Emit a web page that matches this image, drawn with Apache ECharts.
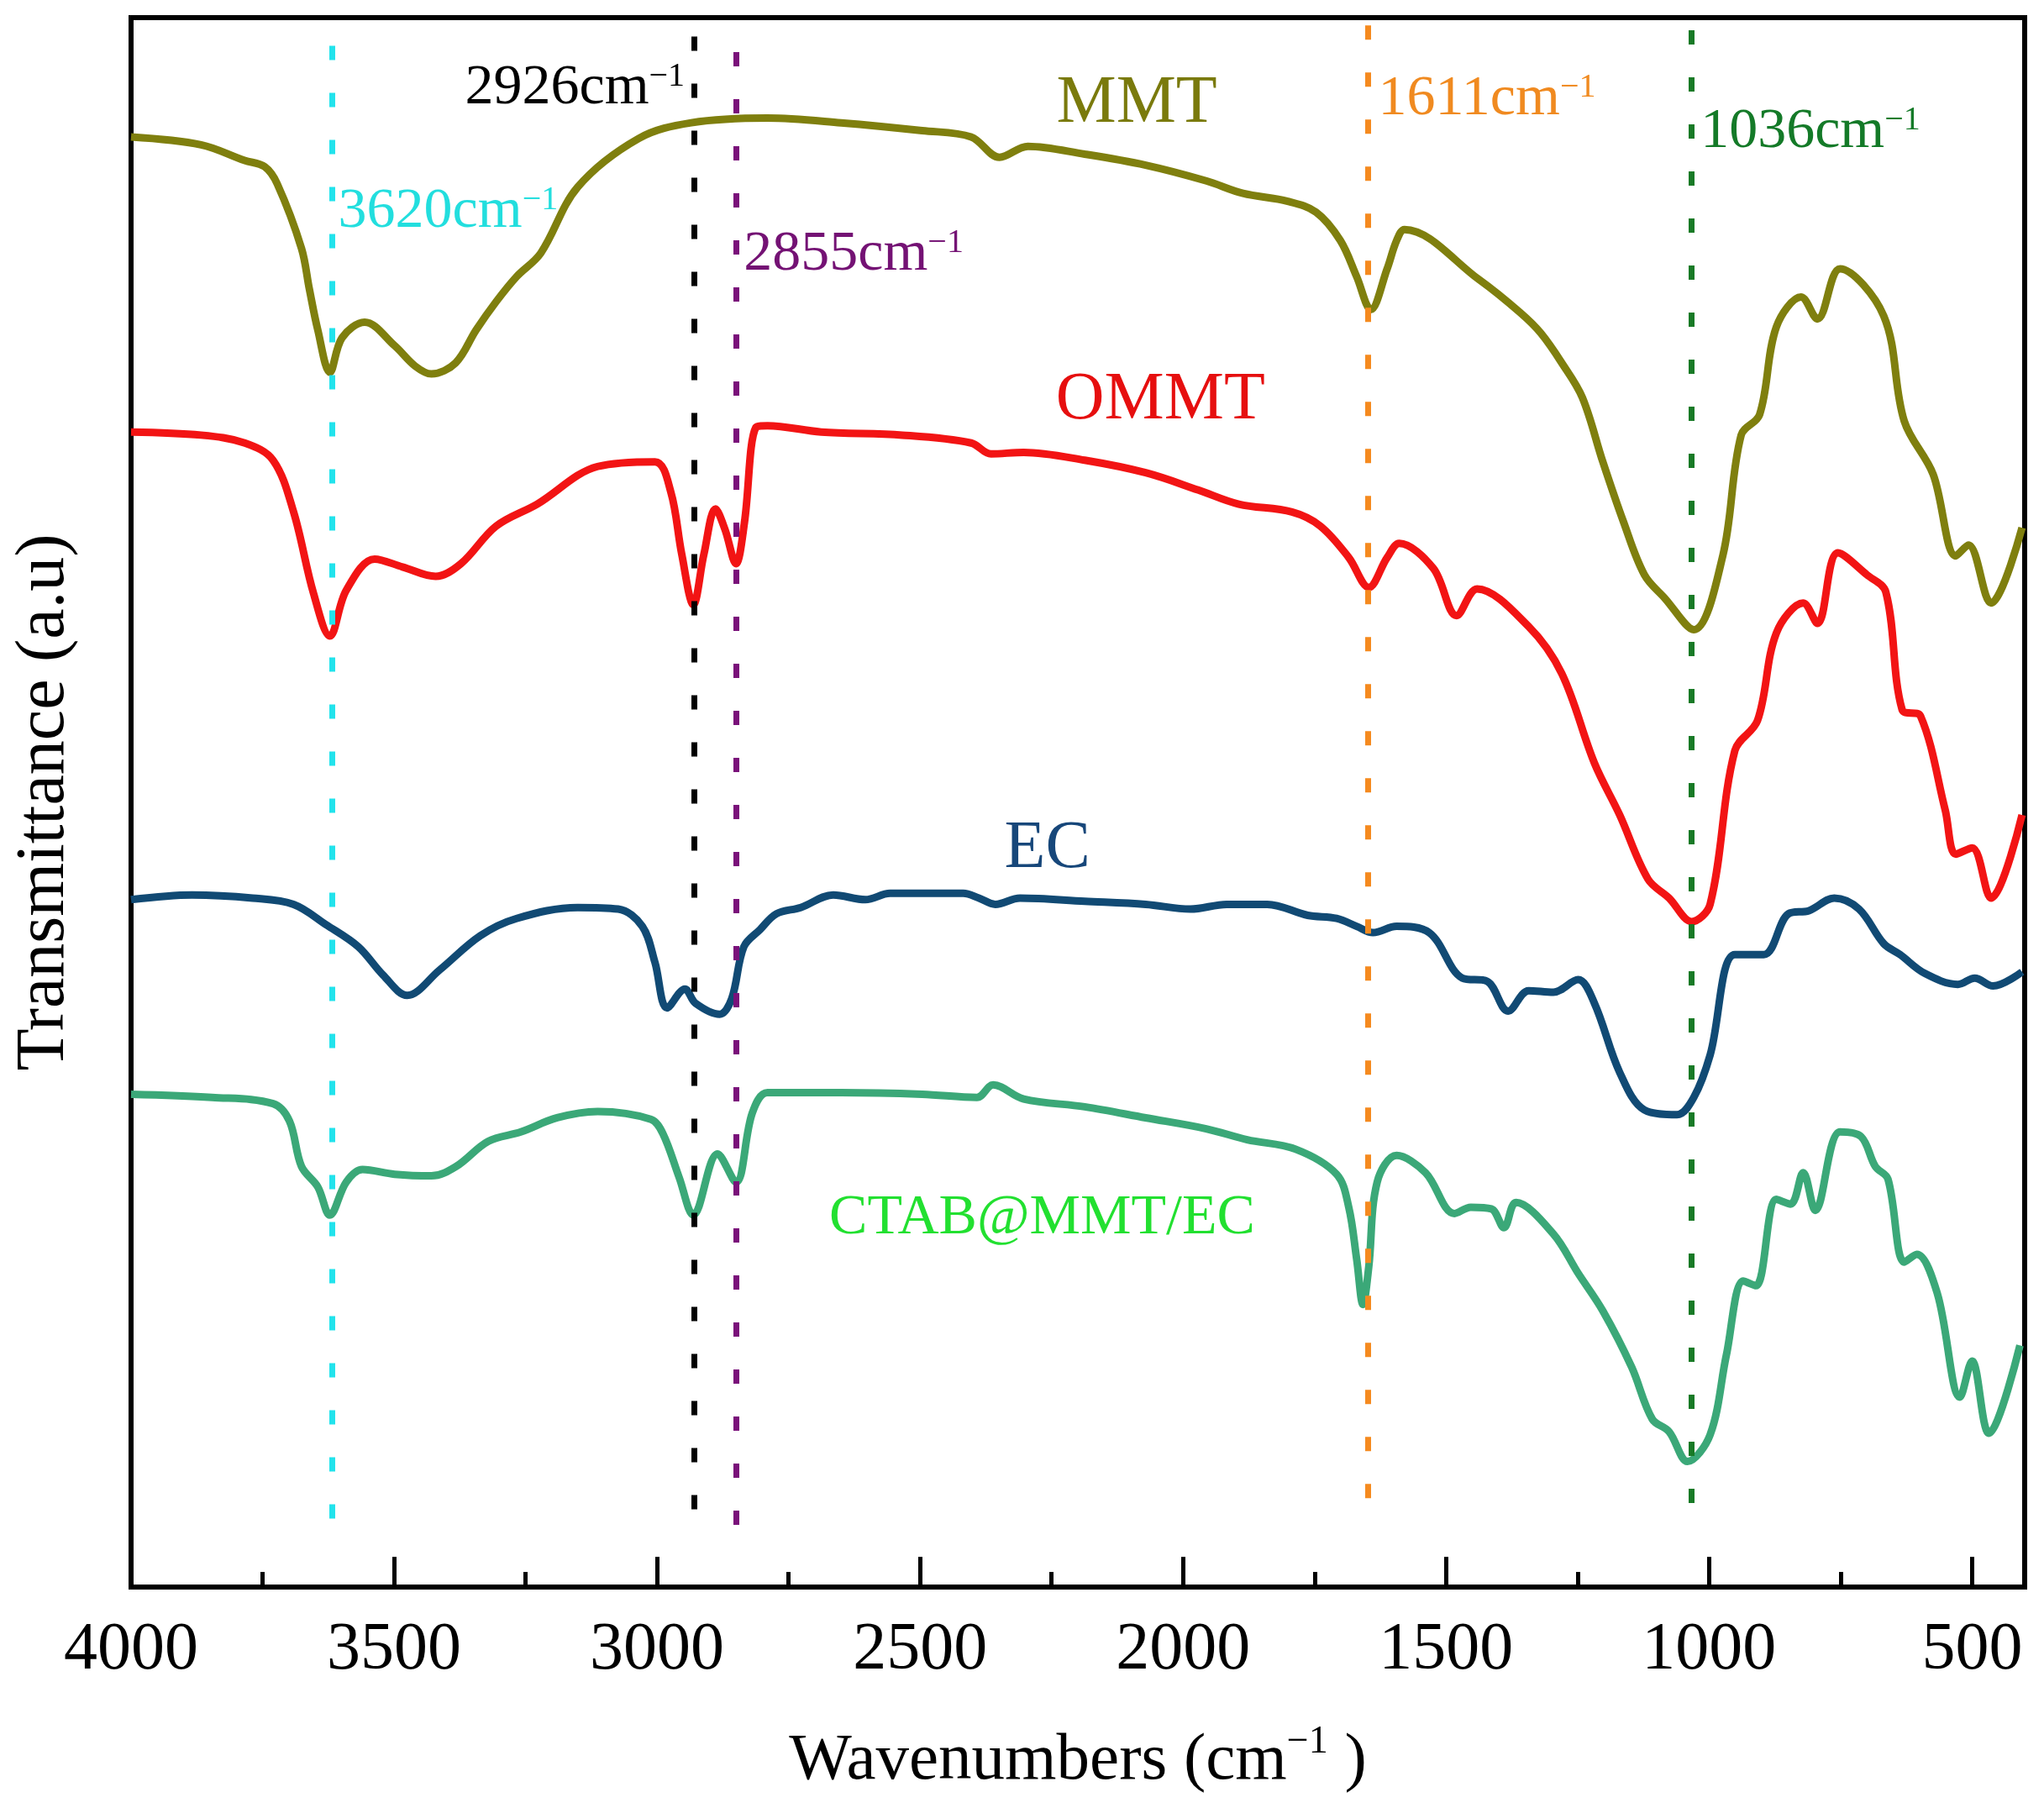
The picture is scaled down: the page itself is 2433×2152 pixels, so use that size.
<!DOCTYPE html>
<html>
<head>
<meta charset="utf-8">
<style>
html,body{margin:0;padding:0;background:#fff;}
#c{width:2433px;height:2152px;}
</style>
<script src="https://cdn.jsdelivr.net/npm/echarts@6/dist/echarts.min.js"></script>
</head>
<body>
<div id="c"></div>
<script>
// ---- data (wavenumber cm-1, transmittance a.u.) ----
const mmtWn = [4000,3867,3784,3746,3722,3676,3661,3645,3622,3599,3556,3499,3460,3429,3383,3344,3306,3267,3221,3151,3035,2935,2790,2650,2496,2403,2349,2295,2187,2071,1956,1886,1801,1747,1701,1670,1643,1612,1594,1579,1437,1359,1320,1280,1241,1202,1163,1123,1084,1029,974,939,904,872,825,794,751,668,629,574,531,507,464,405];
const mmtT  = [92.4,91.9,90.9,90.5,89.4,85.3,82.7,80.1,77.4,79.6,80.6,79.1,77.8,77.3,78.0,80.1,81.9,83.5,85.0,89.2,92.3,93.3,93.6,93.3,92.8,92.4,91.1,91.8,91.3,90.6,89.6,88.8,88.3,87.6,85.8,83.5,81.4,84.0,85.8,86.5,83.3,81.2,79.9,78.0,75.8,71.7,67.9,64.5,63.0,61.0,65.7,73.4,74.7,80.3,82.2,80.8,84.0,81.0,74.3,70.9,65.7,66.4,62.7,67.5];

const ommtWn = [4000,3867,3784,3730,3691,3653,3622,3591,3537,3484,3421,3373,3306,3228,3113,3004,2974,2953,2931,2911,2889,2871,2850,2834,2812,2790,2688,2534,2403,2365,2303,2187,2071,1971,1894,1793,1739,1685,1647,1612,1589,1524,1480,1441,1343,1280,1218,1170,1116,1076,1033,998,951,908,872,821,794,755,700,664,633,598,551,531,500,464,405];
const ommtT  = [73.6,73.4,72.9,71.8,68.5,63.3,60.6,63.5,65.5,65.0,64.4,65.2,67.6,69.0,71.4,71.7,69.8,65.8,62.6,65.8,68.7,67.4,65.2,67.8,73.9,74.0,73.6,73.4,72.9,72.2,72.3,71.8,71.0,69.9,69.0,68.5,67.6,65.6,63.7,65.6,66.5,64.9,61.9,63.6,61.2,58.2,52.5,49.2,45.1,43.9,42.4,43.5,53.3,55.2,60.8,62.7,61.4,65.9,64.5,63.4,55.9,55.5,49.5,46.7,47.1,43.9,49.2];

const ecWn = [4000,3884,3769,3691,3629,3568,3521,3475,3414,3336,3267,3151,3074,3028,3004,2981,2947,2927,2881,2858,2835,2804,2773,2727,2665,2604,2557,2418,2388,2357,2310,2187,2071,1986,1917,1840,1763,1708,1670,1639,1594,1532,1469,1422,1382,1343,1296,1249,1218,1170,1123,1061,1029,998,951,896,849,810,762,715,668,637,590,527,495,460,405];
const ecT  = [43.8,44.1,43.9,43.5,42.2,40.8,39.0,37.7,39.3,41.5,42.6,43.3,43.2,42.1,39.8,36.9,38.1,37.2,36.5,37.5,40.8,41.9,42.9,43.3,44.1,43.8,44.2,44.2,43.9,43.5,43.9,43.7,43.5,43.2,43.5,43.5,42.8,42.6,42.1,41.7,42.1,41.7,38.8,38.6,36.7,38.0,37.9,38.7,37.2,32.8,30.4,30.1,31.2,33.9,40.3,40.3,42.9,43.1,43.9,43.2,41.0,40.3,39.1,38.4,38.8,38.3,39.2];

const ctabWn = [4000,3846,3730,3699,3676,3645,3622,3591,3560,3499,3429,3382,3321,3259,3190,3113,3012,2989,2958,2931,2885,2850,2819,2790,2650,2496,2392,2361,2303,2187,2071,1956,1878,1786,1708,1685,1670,1658,1647,1631,1594,1539,1484,1453,1414,1390,1367,1296,1249,1202,1147,1108,1076,1041,998,967,935,911,872,845,821,798,751,711,684,660,629,605,566,523,500,468,409];
const ctabT  = [31.4,31.2,30.8,29.7,26.8,25.5,23.7,25.8,26.6,26.3,26.2,26.8,28.4,29.0,29.9,30.3,29.8,28.9,26.1,23.7,27.6,25.8,30.2,31.5,31.5,31.4,31.2,32.0,31.1,30.6,29.9,29.2,28.5,27.9,26.3,24.2,20.9,18.0,20.4,25.8,27.5,26.4,23.8,24.2,24.1,22.9,24.5,22.5,20.0,17.6,14.0,10.7,9.9,8.0,9.7,14.8,19.5,19.2,24.7,24.4,26.4,24.0,29.0,28.7,26.8,26.0,20.7,21.2,18.7,12.1,14.4,9.8,15.4];

// axis ticks
const majorTicks = [500,1000,1500,2000,2500,3000,3500,4000];
const minorTicks = [750,1250,1750,2250,2750,3250,3750];

// peak marker lines
const peakWn     = [3618, 2930, 2849, 1649, 1034];
const peakTop    = [98.2, 98.8, 97.8, 99.5, 99.2];
const peakBottom = [3.6, 4.5, 3.5, 4.8, 4.6];

// peak labels
const peakLabelText = ['3620cm', '2926cm', '2855cm', '1611cm', '1036cm'];
const peakLabelWn   = [3607, 3366, 2836, 1630, 1017];
const peakLabelT    = [87.6, 95.5, 84.9, 94.8, 92.7];

// curve labels
const seriesNames = ['MMT', 'OMMT', 'EC', 'CTAB@MMT/EC'];
const nameWn      = [2088, 2043, 2258, 2268];
const nameT       = [94.5, 75.6, 47.0, 23.5];

// ---- styles ----
const FONT = "'Liberation Serif','Times New Roman',serif";
const lineColors  = ['#7f7f0e', '#f21414', '#114a74', '#3ba878'];
const nameColors  = ['#7a7a0c', '#e60f0f', '#17477a', '#22e030'];
const nameSizes   = [80, 80, 80, 68];
const peakColors  = ['#22e3ec', '#000000', '#7a117a', '#f58a1f', '#187a26'];
const peakTextColors = ['#22dede', '#000000', '#741274', '#f08a20', '#147a28'];

function pairs(w, t) { return w.map((x, i) => [x, t[i]]); }

const curves = [pairs(mmtWn, mmtT), pairs(ommtWn, ommtT), pairs(ecWn, ecT), pairs(ctabWn, ctabT)];

const chart = echarts.init(document.getElementById('c'), null, {renderer: 'canvas'});

const lineSeries = curves.map((d, i) => ({
  type: 'line',
  name: seriesNames[i],
  data: d,
  showSymbol: false,
  symbol: 'none',
  smooth: 0.35,
  lineStyle: {width: 9, color: lineColors[i]},
  z: 2,
  silent: true
}));

const markSeries = {
  type: 'line',
  data: [],
  z: 5,
  silent: true,
  markLine: {
    silent: true,
    symbol: ['none', 'none'],
    label: {show: false},
    animation: false,
    data: peakWn.map((w, i) => [
      {coord: [w, peakTop[i]], lineStyle: {color: peakColors[i], width: 7, type: [17, 39], opacity: 1}},
      {coord: [w, peakBottom[i]]}
    ])
  }
};

const peakLabelSeries = {
  type: 'scatter',
  symbolSize: 1,
  itemStyle: {color: 'rgba(0,0,0,0)', opacity: 1},
  z: 6,
  silent: true,
  data: peakLabelText.map((t, i) => ({
    value: [peakLabelWn[i], peakLabelT[i]],
    itemStyle: {opacity: 1},
    label: {
      show: true,
      position: 'right',
      distance: 0,
      color: peakTextColors[i],
      opacity: 1,
      formatter: '{n|' + t + '}{s|\u22121}',
      rich: {
        n: {fontSize: 68, fontFamily: FONT, color: peakTextColors[i], lineHeight: 68},
        s: {fontSize: 40, fontFamily: FONT, color: peakTextColors[i], verticalAlign: 'top', lineHeight: 40}
      }
    }
  }))
};

const nameLabelSeries = {
  type: 'scatter',
  symbolSize: 1,
  itemStyle: {color: 'rgba(0,0,0,0)', opacity: 1},
  z: 6,
  silent: true,
  data: seriesNames.map((t, i) => ({
    value: [nameWn[i], nameT[i]],
    itemStyle: {opacity: 1},
    label: {
      show: true,
      position: 'inside',
      formatter: t,
      color: nameColors[i],
      opacity: 1,
      fontSize: nameSizes[i],
      fontFamily: FONT
    }
  }))
};

chart.setOption({
  animation: false,
  backgroundColor: '#ffffff',
  grid: {left: 149, right: 23, top: 21, bottom: 263, show: true, borderColor: '#000', borderWidth: 6, backgroundColor: 'rgba(0,0,0,0)'},
  xAxis: [
    {
      type: 'value', min: 400, max: 4000, inverse: true, position: 'bottom',
      axisLine: {show: false},
      splitLine: {show: false},
      axisTick: {show: true, inside: true, length: 36, lineStyle: {width: 5, color: '#000'}, customValues: majorTicks},
      axisLabel: {show: true, customValues: majorTicks, fontSize: 80, fontFamily: FONT, color: '#000', margin: 36,
                  formatter: function (v) { return String(v); }},
      name: 'Wavenumbers (cm{s|\u22121} )',
      nameLocation: 'middle',
      nameGap: 162,
      nameTextStyle: {
        fontSize: 79, fontFamily: FONT, color: '#000', lineHeight: 90,
        rich: {s: {fontSize: 46, fontFamily: FONT, color: '#000', verticalAlign: 'top', lineHeight: 46}}
      }
    },
    {
      type: 'value', min: 400, max: 4000, inverse: true, position: 'bottom', offset: 0,
      axisLine: {show: false},
      splitLine: {show: false},
      axisLabel: {show: false},
      axisTick: {show: true, inside: true, length: 18, lineStyle: {width: 5, color: '#000'}, customValues: minorTicks}
    }
  ],
  yAxis: {
    type: 'value', min: 0, max: 100,
    axisLine: {show: false}, axisTick: {show: false}, axisLabel: {show: false}, splitLine: {show: false},
    name: 'Transmittance (a.u)',
    nameLocation: 'middle',
    nameGap: 58,
    nameTextStyle: {fontSize: 82, fontFamily: FONT, color: '#000', lineHeight: 90}
  },
  series: lineSeries.concat([markSeries, peakLabelSeries, nameLabelSeries])
});
</script>
</body>
</html>
